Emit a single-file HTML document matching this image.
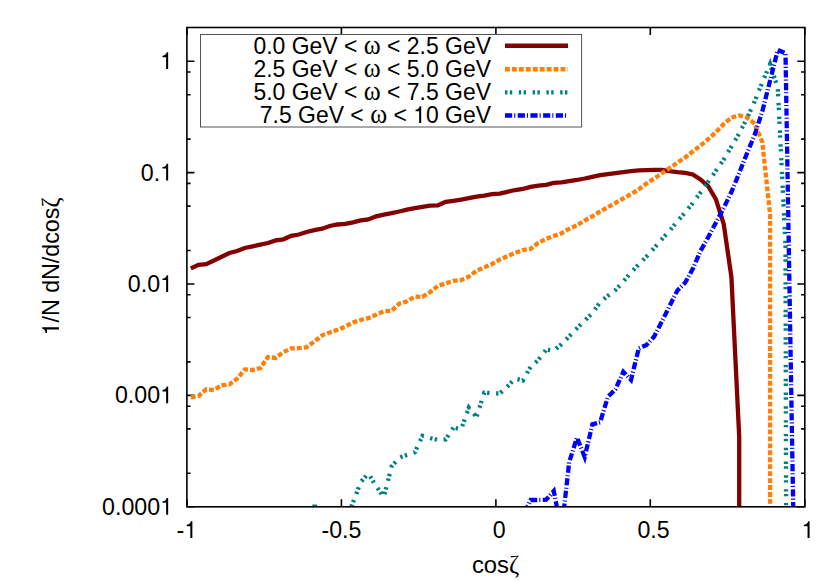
<!DOCTYPE html>
<html><head><meta charset="utf-8"><title>plot</title>
<style>
html,body{margin:0;padding:0;background:#fff;}
svg{display:block;}
text{font-family:"Liberation Sans",sans-serif;font-size:23.6px;fill:#000;}
</style></head>
<body>
<svg width="830" height="581" viewBox="0 0 830 581">
<rect width="830" height="581" fill="#fff"/>
<defs><clipPath id="c"><rect x="186.9" y="27.5" width="617.9" height="479.3"/></clipPath></defs>
<g fill="none" stroke="#000" stroke-width="1.6" stroke-linecap="butt"><path d="M186.9,506.8h7.5M804.8,506.8h-7.5"/><path d="M186.9,473.3h3.7M804.8,473.3h-3.7"/><path d="M186.9,428.9h3.7M804.8,428.9h-3.7"/><path d="M186.9,406.2h3.7M804.8,406.2h-3.7"/><path d="M186.9,395.4h7.5M804.8,395.4h-7.5"/><path d="M186.9,361.9h3.7M804.8,361.9h-3.7"/><path d="M186.9,317.5h3.7M804.8,317.5h-3.7"/><path d="M186.9,294.8h3.7M804.8,294.8h-3.7"/><path d="M186.9,284.0h7.5M804.8,284.0h-7.5"/><path d="M186.9,250.5h3.7M804.8,250.5h-3.7"/><path d="M186.9,206.1h3.7M804.8,206.1h-3.7"/><path d="M186.9,183.4h3.7M804.8,183.4h-3.7"/><path d="M186.9,172.6h7.5M804.8,172.6h-7.5"/><path d="M186.9,139.1h3.7M804.8,139.1h-3.7"/><path d="M186.9,94.7h3.7M804.8,94.7h-3.7"/><path d="M186.9,72.0h3.7M804.8,72.0h-3.7"/><path d="M186.9,61.2h7.5M804.8,61.2h-7.5"/><path d="M186.9,506.8v-7.5M186.9,27.5v7.5"/><path d="M341.4,506.8v-7.5M341.4,27.5v7.5"/><path d="M495.9,506.8v-7.5M495.9,27.5v7.5"/><path d="M650.3,506.8v-7.5M650.3,27.5v7.5"/><path d="M804.8,506.8v-7.5M804.8,27.5v7.5"/></g>
<g><g transform="translate(173.0,514.7) scale(0.9830,1)"><text x="-72.18">0.000</text><path d="M259,0V505H102V568C190,570 262,600 285,709H347V0Z" transform="translate(-13.12,0) scale(0.0236,-0.0236)"/></g><g transform="translate(173.0,403.3) scale(0.9830,1)"><text x="-59.06">0.00</text><path d="M259,0V505H102V568C190,570 262,600 285,709H347V0Z" transform="translate(-13.12,0) scale(0.0236,-0.0236)"/></g><g transform="translate(173.0,291.9) scale(0.9830,1)"><text x="-45.93">0.0</text><path d="M259,0V505H102V568C190,570 262,600 285,709H347V0Z" transform="translate(-13.12,0) scale(0.0236,-0.0236)"/></g><g transform="translate(173.0,180.5) scale(0.9830,1)"><text x="-32.81">0.</text><path d="M259,0V505H102V568C190,570 262,600 285,709H347V0Z" transform="translate(-13.12,0) scale(0.0236,-0.0236)"/></g><g transform="translate(173.0,69.1) scale(0.9830,1)"><path d="M259,0V505H102V568C190,570 262,600 285,709H347V0Z" transform="translate(-13.12,0) scale(0.0236,-0.0236)"/></g><g transform="translate(186.9,538.1) scale(0.9830,1)"><text x="-10.49">-</text><path d="M259,0V505H102V568C190,570 262,600 285,709H347V0Z" transform="translate(-2.63,0) scale(0.0236,-0.0236)"/></g><g transform="translate(341.4,538.1) scale(0.9830,1)"><text x="-20.33">-0.5</text></g><g transform="translate(499.1,538.1) scale(0.9830,1)"><text x="-6.56">0</text></g><g transform="translate(653.5,538.1) scale(0.9830,1)"><text x="-16.40">0.5</text></g><g transform="translate(808.0,538.1) scale(0.9830,1)"><path d="M259,0V505H102V568C190,570 262,600 285,709H347V0Z" transform="translate(-6.56,0) scale(0.0236,-0.0236)"/></g></g>
<g transform="translate(58.9,266.5) rotate(-90) scale(0.985,1)"><path d="M259,0V505H102V568C190,570 262,600 285,709H347V0Z" transform="translate(-69.99,0) scale(0.0236,-0.0236)"/><text x="-56.87">/N dN/dcos<tspan font-family="Liberation Serif" font-size="24.5">ζ</tspan></text></g>
<text transform="translate(495.6,572.8) scale(1.0100,1.0000)" text-anchor="middle">cos<tspan font-family="Liberation Serif" font-size="24.5">ζ</tspan></text>
<rect x="200.5" y="34.5" width="381.1" height="92.5" fill="#fff" stroke="#555" stroke-width="1"/>
<g><text transform="translate(491.0,53.9) scale(0.9720,1.0000)" text-anchor="end">0.0 GeV &lt; <tspan font-family="Liberation Serif" font-size="26.5">ω</tspan> &lt; 2.5 GeV</text><text transform="translate(491.0,77.0) scale(0.9720,1.0000)" text-anchor="end">2.5 GeV &lt; <tspan font-family="Liberation Serif" font-size="26.5">ω</tspan> &lt; 5.0 GeV</text><text transform="translate(491.0,100.0) scale(0.9720,1.0000)" text-anchor="end">5.0 GeV &lt; <tspan font-family="Liberation Serif" font-size="26.5">ω</tspan> &lt; 7.5 GeV</text><g transform="translate(491.0,123.1) scale(0.972,1)"><text text-anchor="end">0 GeV</text><path d="M259,0V505H102V568C190,570 262,600 285,709H347V0Z" transform="translate(-80.02,0) scale(0.0236,-0.0236)"/><text x="-86.57" text-anchor="end">7.5 GeV &lt; <tspan font-family="Liberation Serif" font-size="26.5">ω</tspan> &lt;</text></g></g>
<g fill="none" stroke-width="4.4" stroke-linejoin="miter">
<path d="M505,45.8H568" stroke="#820000"/>
<path d="M505,69.3H568" stroke="#ff7f08" stroke-dasharray="4.85 2.1"/>
<path d="M505,92.4H568" stroke="#008080" stroke-dasharray="2.4 2.4 2.4 6.6"/>
<path d="M505,115.5H568" stroke="#0000ff" stroke-dasharray="7.2 2.0 1.1 2.4"/>
</g>
<g fill="none" stroke-width="4.3" stroke-linejoin="miter" stroke-miterlimit="10" clip-path="url(#c)">
<path d="M190.8,268.4 L198.5,264.8 L206.2,264.1 L213.9,260.5 L221.7,256.8 L229.4,253.0 L237.1,251.0 L244.8,248.0 L252.6,246.3 L260.3,244.7 L268.0,243.0 L275.7,240.4 L283.4,239.3 L291.2,235.8 L298.9,234.5 L306.6,232.0 L314.3,230.2 L322.1,228.7 L329.8,226.0 L337.5,224.5 L345.2,223.9 L353.0,222.3 L360.7,220.4 L368.4,219.4 L376.1,216.3 L383.9,214.6 L391.6,213.2 L399.3,211.5 L407.0,209.6 L414.8,208.2 L422.5,206.8 L430.2,205.7 L437.9,205.3 L445.7,201.9 L453.4,200.8 L461.1,199.6 L468.8,198.1 L476.5,196.6 L484.3,195.6 L492.0,194.1 L499.7,193.7 L507.4,191.8 L515.2,190.0 L522.9,189.0 L530.6,186.9 L538.3,185.7 L546.1,184.8 L553.8,182.9 L561.5,182.3 L569.2,181.1 L577.0,180.0 L584.7,178.5 L592.4,176.8 L600.1,175.1 L607.9,174.1 L615.6,173.1 L623.3,172.1 L631.0,171.1 L638.8,170.4 L646.5,170.1 L654.2,169.9 L661.9,169.9 L669.6,171.1 L677.4,172.1 L685.1,172.9 L692.8,174.5 L700.5,179.5 L708.3,186.3 L716.0,199.5 L723.7,224.0 L731.4,277.0 L739.2,436.6 L739.2,520.0" stroke="#820000"/>
<path d="M190.8,397.4 L198.5,396.0 L206.2,389.3 L213.9,389.9 L221.7,385.4 L229.4,384.5 L237.1,378.7 L244.8,369.4 L252.6,370.0 L260.3,368.1 L268.0,357.1 L275.7,357.9 L283.4,352.1 L291.2,348.4 L298.9,348.2 L306.6,347.3 L314.3,341.5 L322.1,335.3 L329.8,332.5 L337.5,329.8 L345.2,326.7 L353.0,322.5 L360.7,320.0 L368.4,318.1 L376.1,314.8 L383.9,311.3 L391.6,310.9 L399.3,303.6 L407.0,301.3 L414.8,296.5 L422.5,296.9 L430.2,292.0 L437.9,285.9 L445.7,283.4 L453.4,280.9 L461.1,280.1 L468.8,276.6 L476.5,270.8 L484.3,267.4 L492.0,264.1 L499.7,259.6 L507.4,256.2 L515.2,252.9 L522.9,250.0 L530.6,249.0 L538.3,242.9 L546.1,238.8 L553.8,236.1 L561.5,233.2 L569.2,228.8 L577.0,225.3 L584.7,220.5 L592.4,216.3 L600.1,211.4 L607.9,207.2 L615.6,202.8 L623.3,198.5 L631.0,194.1 L638.8,189.3 L646.5,183.5 L654.2,178.5 L661.9,173.3 L669.6,168.0 L677.4,162.8 L685.1,157.5 L692.8,151.5 L700.5,145.5 L708.3,139.0 L716.0,132.0 L723.7,124.0 L731.4,117.5 L739.2,115.5 L746.9,117.5 L754.6,123.5 L762.3,142.0 L770.1,215.0 L770.1,520.0" stroke="#ff7f08" stroke-dasharray="4.85 2.1"/>
<path d="M312.3,505.6H317" stroke="#008080" stroke-width="2.4"/>
<path d="M350.9,507.8 L353.0,502.6 L360.7,482.0 L368.4,473.5 L376.1,486.1 L383.9,497.0 L391.6,466.5 L399.3,457.7 L407.0,454.9 L414.8,452.3 L422.5,435.8 L430.2,438.0 L437.9,440.0 L445.7,439.4 L453.4,427.5 L461.1,429.4 L468.8,407.6 L476.5,416.9 L484.3,392.7 L492.0,393.1 L499.7,393.6 L507.4,386.5 L515.2,378.5 L522.9,380.4 L530.6,366.9 L538.3,360.0 L546.1,349.7 L553.8,350.7 L561.5,344.2 L569.2,336.3 L577.0,328.3 L584.7,320.6 L592.4,313.1 L600.1,302.3 L607.9,295.8 L615.6,290.0 L623.3,281.5 L631.0,272.5 L638.8,264.5 L646.5,256.5 L654.2,248.0 L661.9,239.2 L669.6,230.8 L677.4,221.3 L685.1,212.5 L692.8,203.0 L700.5,192.5 L708.3,181.7 L716.0,170.7 L723.7,159.5 L731.4,146.5 L739.2,133.5 L746.9,118.5 L754.6,101.5 L762.3,82.5 L770.1,64.0 L777.8,88.0 L785.5,245.0 L786.1,520.0" stroke="#008080" stroke-dasharray="2.4 2.4 2.4 6.6" stroke-dashoffset="-1.1"/>
<path d="M525.0,512.0 L530.6,500.0 L538.3,500.0 L546.1,499.7 L553.8,491.0 L561.5,531.0 L569.2,462.1 L577.0,437.5 L584.7,457.1 L592.4,424.3 L600.1,422.3 L607.9,396.8 L615.6,389.0 L623.3,371.8 L631.0,379.9 L638.8,348.3 L646.5,345.0 L654.2,336.5 L661.9,321.4 L669.6,306.0 L677.4,290.4 L685.1,282.7 L692.8,268.9 L700.5,251.0 L708.3,237.0 L716.0,222.5 L723.7,208.0 L731.4,192.0 L739.2,173.0 L746.9,153.5 L754.6,135.0 L762.3,111.5 L770.1,80.5 L777.8,50.0 L785.5,53.3 L793.3,512.0" stroke="#0000ff" stroke-dasharray="7.2 2.0 1.1 2.4"/>
</g>
<rect x="186.9" y="27.5" width="617.9" height="479.3" fill="none" stroke="#000" stroke-width="1.6"/>
</svg>
</body></html>
